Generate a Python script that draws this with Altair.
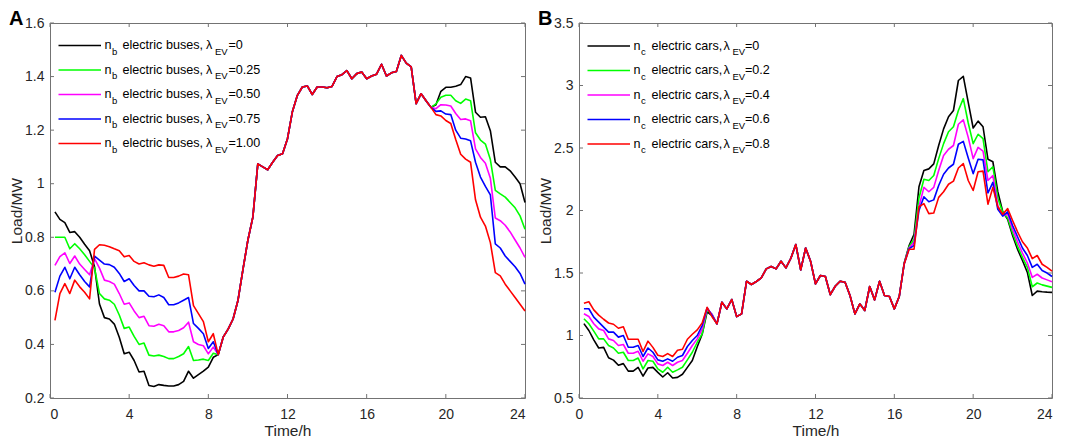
import altair as alt
import pandas as pd

FONT = "Liberation Sans"
TXT = "#262626"
BORDER = "#737373"
COLORS = ["#000000", "#00ff00", "#ff00ff", "#0000ff", "#ff0000"]

# time grid: 15-minute samples
time_h = [round(0.25 * k, 2) for k in range(1, 97)]

# ---------------- Panel A: electric buses ----------------
# 0.25 h .. 8.25 h (individual)
a_m_black = [0.895, 0.867, 0.855, 0.818, 0.821, 0.80, 0.774, 0.75, 0.69, 0.551, 0.50, 0.495, 0.476, 0.427, 0.365,
             0.371, 0.34, 0.297, 0.30, 0.247, 0.243, 0.25, 0.247, 0.245, 0.245, 0.25, 0.262, 0.30, 0.274, 0.287,
             0.30, 0.315, 0.352]
a_m_green = [0.80, 0.80, 0.80, 0.757, 0.776, 0.757, 0.735, 0.71, 0.685, 0.59, 0.57, 0.565, 0.55, 0.51, 0.46,
             0.465, 0.43, 0.40, 0.405, 0.36, 0.357, 0.36, 0.355, 0.347, 0.347, 0.355, 0.365, 0.392, 0.34, 0.342,
             0.345, 0.34, 0.367]
a_m_magenta = [0.695, 0.728, 0.742, 0.702, 0.73, 0.70, 0.68, 0.66, 0.72, 0.685, 0.64, 0.635, 0.625, 0.59, 0.55,
               0.555, 0.525, 0.50, 0.505, 0.47, 0.468, 0.475, 0.47, 0.447, 0.447, 0.452, 0.462, 0.483, 0.41, 0.40,
               0.395, 0.365, 0.39]
a_m_blue = [0.595, 0.655, 0.688, 0.645, 0.688, 0.66, 0.635, 0.615, 0.73, 0.715, 0.70, 0.698, 0.688, 0.665, 0.635,
            0.645, 0.62, 0.60, 0.60, 0.58, 0.578, 0.585, 0.575, 0.548, 0.548, 0.555, 0.565, 0.575, 0.478, 0.46,
            0.44, 0.385, 0.41]
a_m_red = [0.49, 0.59, 0.627, 0.59, 0.64, 0.615, 0.595, 0.57, 0.755, 0.772, 0.77, 0.765, 0.757, 0.75, 0.727,
           0.732, 0.71, 0.70, 0.705, 0.697, 0.692, 0.697, 0.695, 0.65, 0.65, 0.655, 0.663, 0.66, 0.545, 0.515,
           0.485, 0.41, 0.44]
# 8.5 h .. 19.25 h (shared by all curves)
a_common = [0.362, 0.427, 0.457, 0.495, 0.565, 0.68, 0.79, 0.875, 1.074, 1.063, 1.052, 1.08, 1.105, 1.112,
            1.168, 1.27, 1.33, 1.361, 1.365, 1.333, 1.361, 1.361, 1.358, 1.363, 1.40, 1.407, 1.422, 1.392,
            1.411, 1.417, 1.392, 1.402, 1.409, 1.446, 1.402, 1.414, 1.419, 1.479, 1.45, 1.436, 1.299, 1.336,
            1.31, 1.285]
# 19.5 h .. 24 h (individual)
a_e_black = [1.295, 1.345, 1.36, 1.36, 1.364, 1.37, 1.40, 1.395, 1.267, 1.248, 1.25, 1.198, 1.08, 1.063, 1.063,
             1.048, 1.025, 1.0, 0.93]
a_e_green = [1.298, 1.323, 1.33, 1.33, 1.31, 1.30, 1.316, 1.31, 1.19, 1.163, 1.148, 1.09, 0.975, 0.962, 0.95,
             0.93, 0.91, 0.88, 0.83]
a_e_magenta = [1.28, 1.295, 1.294, 1.29, 1.262, 1.24, 1.242, 1.235, 1.13, 1.098, 1.076, 1.02, 0.872, 0.862,
               0.845, 0.82, 0.79, 0.76, 0.725]
a_e_blue = [1.27, 1.272, 1.26, 1.258, 1.20, 1.17, 1.167, 1.16, 1.08, 1.025, 0.99, 0.958, 0.775, 0.76, 0.73,
            0.71, 0.69, 0.665, 0.625]
a_e_red = [1.258, 1.253, 1.236, 1.225, 1.165, 1.11, 1.092, 1.08, 0.94, 0.875, 0.842, 0.78, 0.668, 0.656, 0.625,
           0.60, 0.575, 0.55, 0.525]

# ---------------- Panel B: electric cars ----------------
# 0.25 h .. 6.75 h (individual)
b_m_black = [1.095, 1.04, 0.965, 0.90, 0.905, 0.822, 0.803, 0.762, 0.775, 0.715, 0.715, 0.745, 0.675, 0.74,
             0.745, 0.705, 0.668, 0.702, 0.66, 0.665, 0.69, 0.745, 0.80, 0.91, 1.01, 1.19, 1.16]
b_m_green = [1.134, 1.094, 1.035, 0.973, 0.973, 0.92, 0.90, 0.858, 0.866, 0.80, 0.80, 0.82, 0.733, 0.80,
             0.794, 0.733, 0.706, 0.746, 0.706, 0.725, 0.746, 0.805, 0.866, 0.946, 1.013, 1.206, 1.17]
b_m_magenta = [1.174, 1.152, 1.094, 1.053, 1.04, 0.973, 0.96, 0.92, 0.928, 0.858, 0.858, 0.874, 0.794, 0.853,
               0.832, 0.773, 0.76, 0.786, 0.76, 0.786, 0.80, 0.858, 0.92, 0.973, 1.053, 1.214, 1.17]
b_m_blue = [1.214, 1.214, 1.147, 1.107, 1.067, 1.027, 1.027, 0.987, 1.0, 0.906, 0.906, 0.92, 0.832, 0.90,
            0.866, 0.805, 0.794, 0.813, 0.794, 0.826, 0.84, 0.912, 0.96, 1.0, 1.08, 1.222, 1.16]
b_m_red = [1.258, 1.27, 1.205, 1.163, 1.13, 1.10, 1.09, 1.058, 1.07, 0.97, 0.97, 0.97, 0.872, 0.955, 0.905,
           0.842, 0.832, 0.855, 0.832, 0.882, 0.89, 0.97, 1.01, 1.045, 1.10, 1.225, 1.15]
# 7.0 h .. 16.25 h (shared by all curves)
b_common = [1.093, 1.266, 1.213, 1.288, 1.151, 1.173, 1.434, 1.408, 1.432, 1.461, 1.533, 1.552, 1.533, 1.594,
            1.541, 1.618, 1.728, 1.525, 1.70, 1.594, 1.413, 1.48, 1.472, 1.327, 1.394, 1.434, 1.426, 1.32,
            1.173, 1.253, 1.20, 1.392, 1.285, 1.434, 1.32, 1.312, 1.213, 1.312]
# 16.5 h .. 24 h (individual)
b_e_black = [1.58, 1.72, 1.81, 2.19, 2.32, 2.333, 2.373, 2.52, 2.653, 2.75, 2.80, 3.04, 3.073, 2.865, 2.66,
             2.715, 2.67, 2.41, 2.39, 2.15, 1.99, 1.93, 1.80, 1.69, 1.60, 1.505, 1.32, 1.355, 1.35, 1.347, 1.345]
b_e_green = [1.575, 1.71, 1.77, 2.10, 2.25, 2.24, 2.28, 2.415, 2.535, 2.63, 2.67, 2.80, 2.895, 2.70, 2.535,
             2.61, 2.575, 2.31, 2.35, 2.10, 1.985, 1.94, 1.82, 1.715, 1.625, 1.545, 1.39, 1.42, 1.405, 1.395, 1.385]
b_e_magenta = [1.573, 1.70, 1.745, 2.03, 2.185, 2.15, 2.185, 2.32, 2.44, 2.49, 2.52, 2.69, 2.725, 2.585, 2.415,
               2.505, 2.475, 2.24, 2.28, 2.04, 1.96, 1.97, 1.85, 1.75, 1.66, 1.58, 1.465, 1.49, 1.46, 1.445, 1.43]
b_e_blue = [1.573, 1.695, 1.72, 2.0, 2.11, 2.07, 2.085, 2.20, 2.29, 2.34, 2.37, 2.53, 2.553, 2.42, 2.295,
            2.41, 2.405, 2.14, 2.225, 2.01, 1.955, 1.99, 1.88, 1.79, 1.70, 1.64, 1.545, 1.57, 1.52, 1.50, 1.472]
b_e_red = [1.573, 1.69, 1.69, 2.03, 2.055, 1.975, 1.98, 2.105, 2.15, 2.21, 2.235, 2.34, 2.375, 2.24, 2.16,
           2.31, 2.315, 2.05, 2.185, 2.03, 1.97, 2.015, 1.92, 1.83, 1.75, 1.70, 1.615, 1.64, 1.57, 1.545, 1.515]

a_lambda = ["=0", "=0.25", "=0.50", "=0.75", "=1.00"]
b_lambda = ["=0", "=0.2", "=0.4", "=0.6", "=0.8"]
x_ticks = [0, 4, 8, 12, 16, 20, 24]
a_y_ticks = [0.2, 0.4, 0.6, 0.8, 1.0, 1.2, 1.4, 1.6]
b_y_ticks = [0.5, 1.0, 1.5, 2.0, 2.5, 3.0, 3.5]

H = 375


def build_panel(series, lambdas, ydom, yticks, letter, letter_x, sub, noun, lam_x, ev_x, val_x, leg_range, W,
                last_label_right=False):
    rows = []
    for i, vals in enumerate(series):
        for t, v in zip(time_h, vals):
            rows.append({"t": t, "v": v, "s": i})
    df = pd.DataFrame(rows)

    x_axis_kw = dict(values=x_ticks, title="Time/h", grid=False, domain=False, ticks=False,
                     tickSize=0, labelPadding=9, titlePadding=2, labelFontSize=14,
                     titleFontSize=15.5, labelColor=TXT, titleColor=TXT, titleFontWeight="normal",
                     labelFont=FONT, titleFont=FONT)
    if last_label_right:
        x_axis_kw["labelAlign"] = {"condition": {"test": "datum.value >= 24", "value": "right"},
                                   "value": "center"}
    xenc = alt.X("t:Q", scale=alt.Scale(domain=[0, 24], nice=False, zero=False),
                 axis=alt.Axis(**x_axis_kw))
    yenc = alt.Y("v:Q", scale=alt.Scale(domain=ydom, nice=False, zero=False),
                 axis=alt.Axis(values=yticks, format="~g", title="Load/MW", grid=False, domain=False,
                               ticks=False, tickSize=0, labelPadding=6, titleX=-25.5, labelFontSize=14,
                               titleFontSize=15.5, labelColor=TXT, titleColor=TXT, titleFontWeight="normal",
                               labelFont=FONT, titleFont=FONT))

    layers = []
    for i in range(5):
        layers.append(
            alt.Chart(df).transform_filter(alt.datum.s == i)
            .mark_line(color=COLORS[i], strokeWidth=1.6, strokeJoin="round")
            .encode(x=xenc, y=yenc)
        )
    xt = pd.DataFrame({"t": x_ticks})
    yt = pd.DataFrame({"v": yticks})
    layers.append(alt.Chart(xt).mark_rule(color=BORDER, strokeWidth=1)
                  .encode(x=xenc, y=alt.value(H), y2=alt.value(H - 4)))
    layers.append(alt.Chart(xt).mark_rule(color=BORDER, strokeWidth=1)
                  .encode(x=xenc, y=alt.value(0), y2=alt.value(4)))
    layers.append(alt.Chart(yt).mark_rule(color=BORDER, strokeWidth=1)
                  .encode(y=yenc, x=alt.value(0), x2=alt.value(4)))
    layers.append(alt.Chart(yt).mark_rule(color=BORDER, strokeWidth=1)
                  .encode(y=yenc, x=alt.value(W), x2=alt.value(W - 4)))
    main = alt.layer(*layers)

    leg = pd.DataFrame({"row": list(range(5)), "lam": lambdas, "col": COLORS})
    ry = alt.Y("row:Q", scale=alt.Scale(domain=[0, 4], range=leg_range), axis=None)
    base = alt.Chart(leg)
    txt = dict(align="left", baseline="alphabetic", font=FONT, color="black")
    panel_letter = alt.Chart(pd.DataFrame({"letter": [letter]})).mark_text(
        fontSize=20, fontWeight="bold", **txt
    ).encode(x=alt.value(letter_x), y=alt.value(1.5), text="letter:N")
    legend = alt.layer(
        base.mark_rule(strokeWidth=1.6).encode(x=alt.value(8.5), x2=alt.value(51), y=ry,
                                               color=alt.Color("col:N", scale=None)),
        base.mark_text(text="n", fontSize=12.6, dy=3.5, **txt).encode(x=alt.value(54.5), y=ry),
        base.mark_text(text=sub, fontSize=9.5, dy=9, **txt).encode(x=alt.value(62), y=ry),
        base.mark_text(text=noun, fontSize=12.6, dy=3.5, **txt).encode(x=alt.value(72.5), y=ry),
        base.mark_text(text="λ", fontSize=12.6, dy=3.5, **txt).encode(x=alt.value(lam_x), y=ry),
        base.mark_text(text="EV", fontSize=9.5, dy=9, **txt).encode(x=alt.value(ev_x), y=ry),
        base.mark_text(fontSize=12.6, dy=3.5, **txt).encode(x=alt.value(val_x), y=ry, text="lam:N"),
        panel_letter,
    )

    return alt.layer(main, legend).resolve_scale(y="independent").properties(width=W, height=H)


panel_a = build_panel([a_m_black + a_common + a_e_black,
                       a_m_green + a_common + a_e_green,
                       a_m_magenta + a_common + a_e_magenta,
                       a_m_blue + a_common + a_e_blue,
                       a_m_red + a_common + a_e_red],
                      a_lambda, [0.2, 1.6], a_y_ticks, "A", -41, "b", "electric buses,",
                      156, 165, 178.5, [22.5, 120.5], 475)

panel_b = build_panel([b_m_black + b_common + b_e_black,
                       b_m_green + b_common + b_e_green,
                       b_m_magenta + b_common + b_e_magenta,
                       b_m_blue + b_common + b_e_blue,
                       b_m_red + b_common + b_e_red],
                      b_lambda, [0.5, 3.5], b_y_ticks, "B", -41, "c", "electric cars,",
                      144.5, 153.5, 166, [23, 121], 473, last_label_right=True)

chart = alt.hconcat(panel_a, panel_b, spacing=10).properties(
    padding={"left": 0, "top": 0, "right": 0, "bottom": 0}
).configure_view(stroke=BORDER, strokeWidth=1)

chart.save("out.html", embed_options={"renderer": "svg", "actions": False})
